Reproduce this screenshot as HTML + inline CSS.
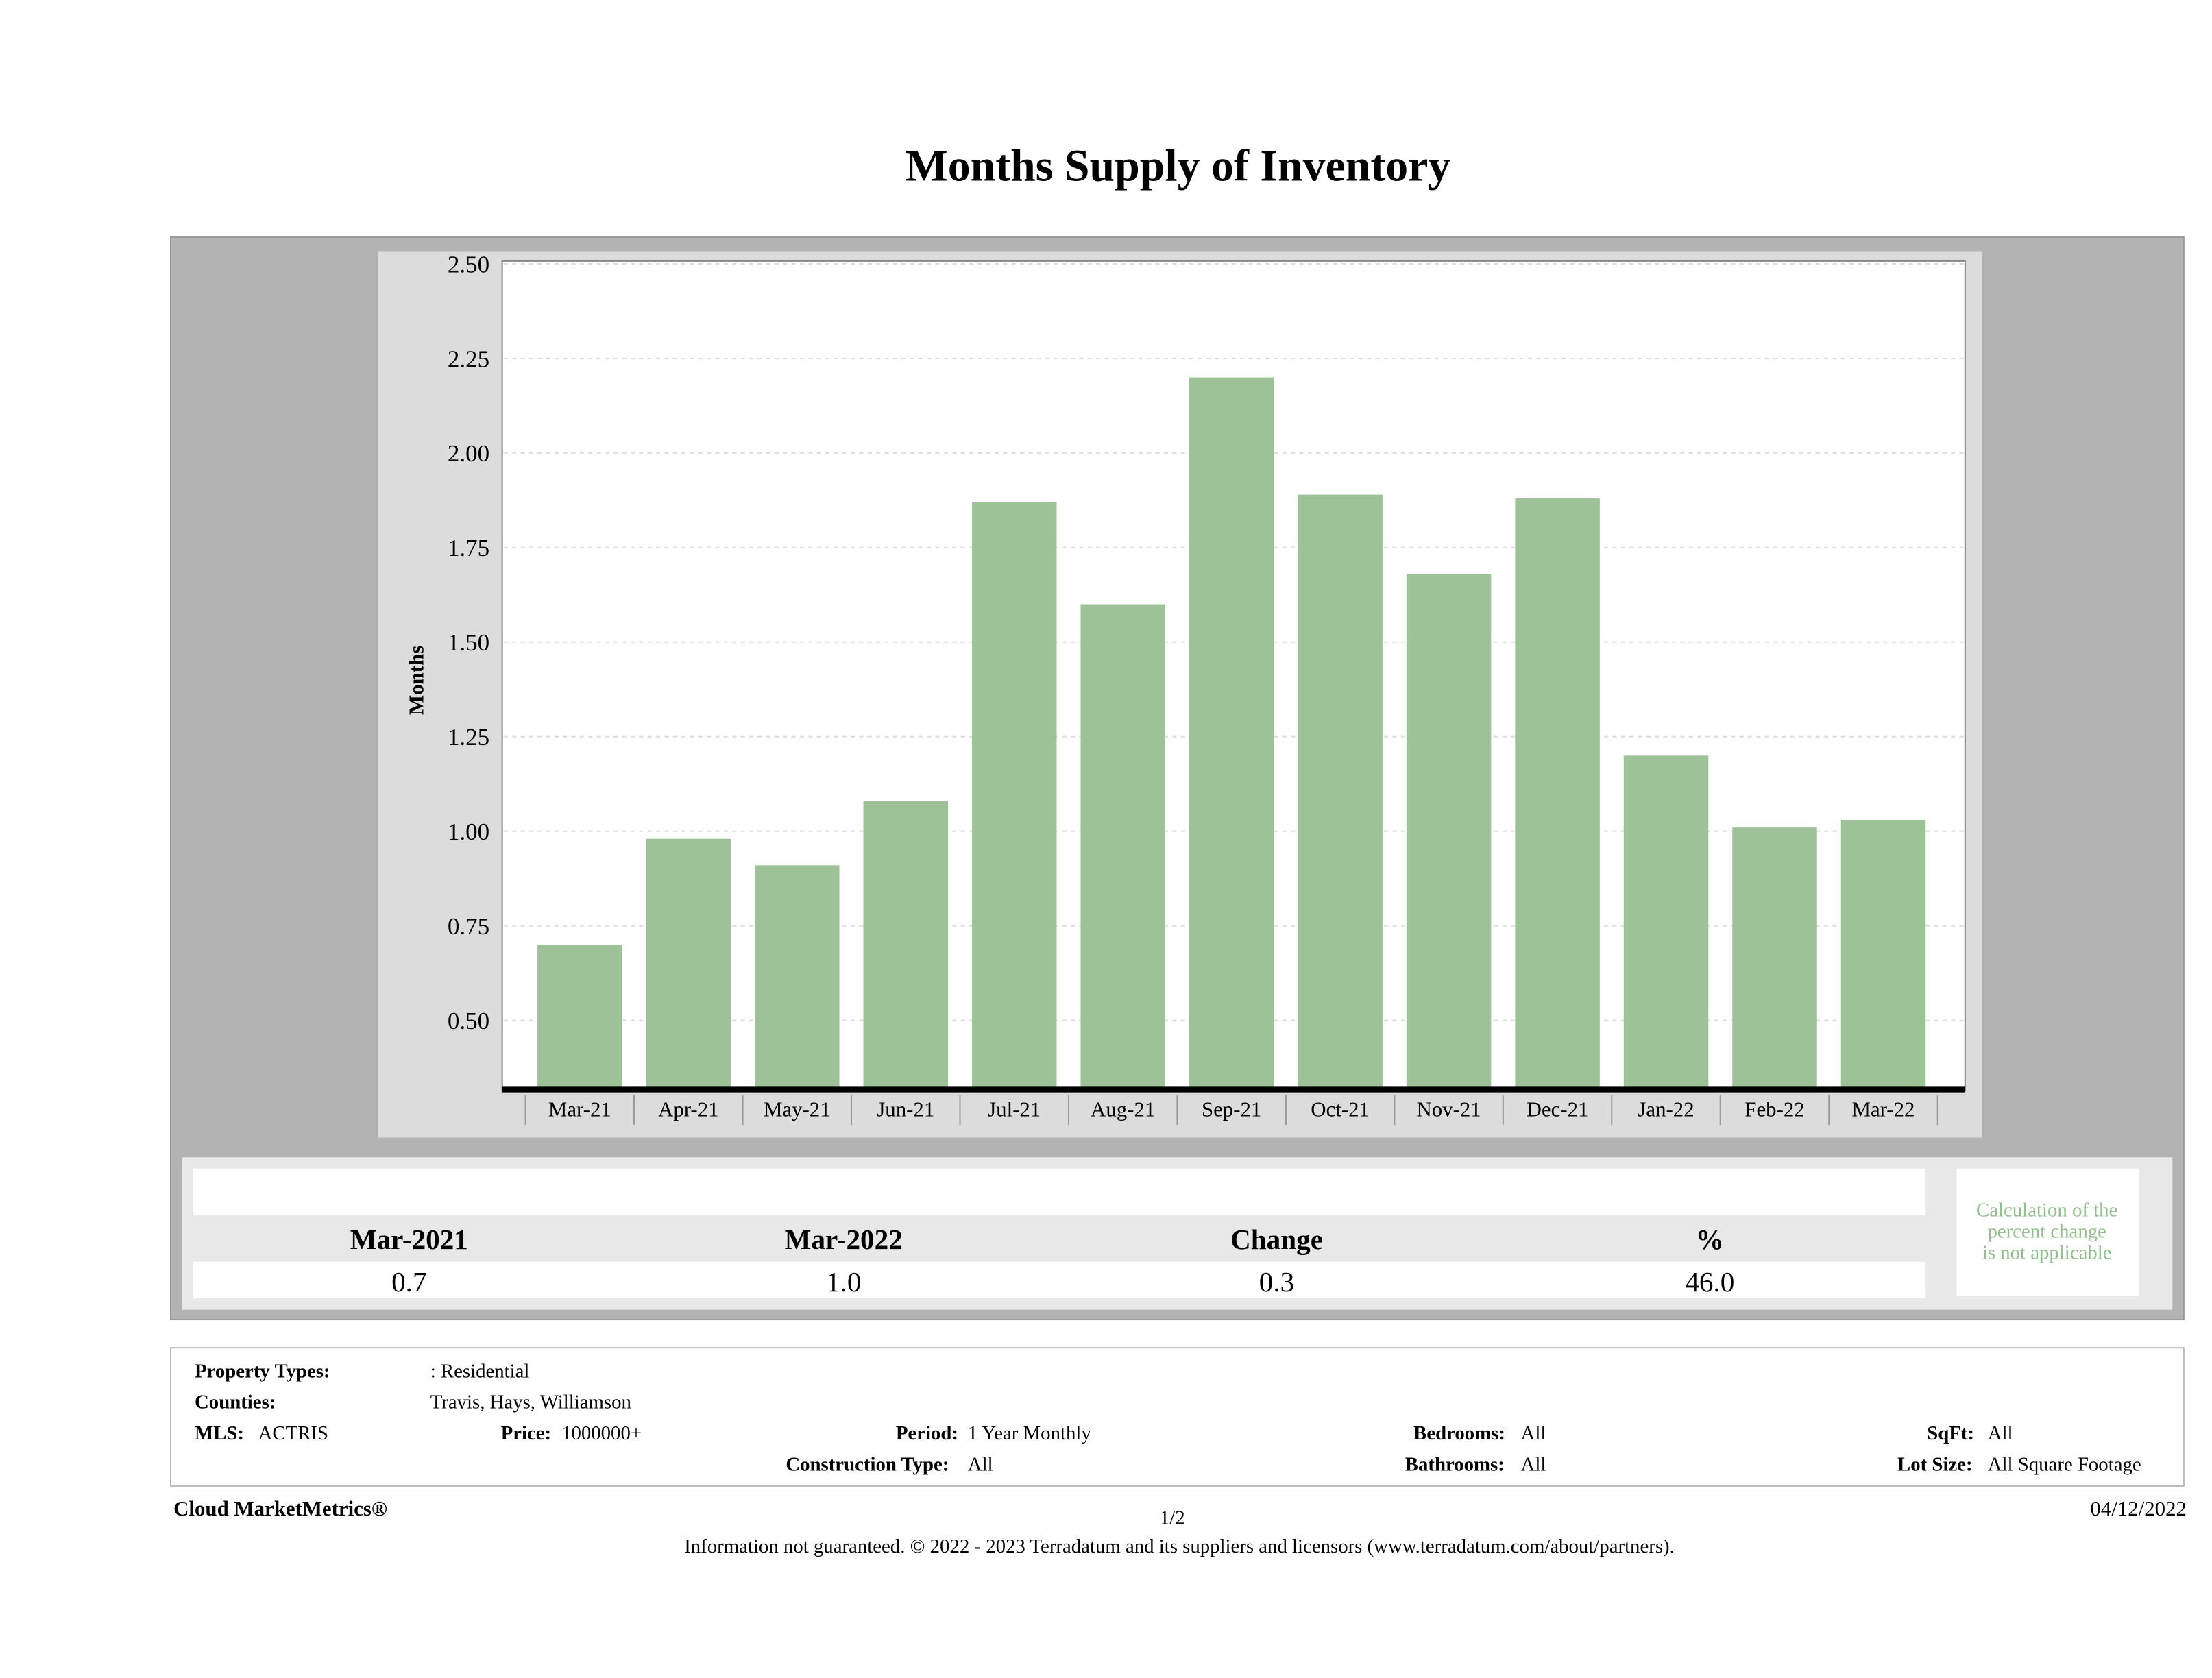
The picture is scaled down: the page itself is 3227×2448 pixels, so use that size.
<!DOCTYPE html>
<html><head><meta charset="utf-8"><style>
html,body{margin:0;padding:0;background:#fff;}
svg{display:block;font-family:"Liberation Serif",serif;}
</style></head><body>
<svg id="root" width="3227" height="2448" viewBox="0 0 1568 1189" preserveAspectRatio="none" xmlns="http://www.w3.org/2000/svg">
<text x="835" y="128" text-anchor="middle" font-size="32" font-weight="bold">Months Supply of Inventory</text>
<rect x="121" y="168" width="1427" height="767" fill="#b3b3b3" stroke="#999"/>
<rect x="268" y="178" width="1137" height="628" fill="#dcdcdc"/>
<rect x="356" y="185" width="1037" height="588" fill="#fff" stroke="#888"/>
<g id="grid"></g>
<g id="bars"></g>
<line x1="356" y1="772" x2="1393" y2="772" stroke="#000" stroke-width="4"/>
<g id="xlabels"></g>
<g id="ylabels"></g>
<text transform="translate(300,482) rotate(-90)" text-anchor="middle" font-size="15" font-weight="bold">Months</text>

<rect x="129" y="820" width="1411" height="108" fill="#e8e8e8"/>
<rect x="137" y="828" width="1228" height="33" fill="#fff"/>
<rect x="137" y="894" width="1228" height="26" fill="#fff"/>
<rect x="1387" y="828" width="129" height="90" fill="#fff"/>
<g font-size="14" fill="#8fbf8a" text-anchor="middle">
<text x="1451" y="862">Calculation of the</text><text x="1451" y="877">percent change</text><text x="1451" y="892">is not applicable</text></g>
<g font-size="20" font-weight="bold" text-anchor="middle">
<text x="290" y="885">Mar-2021</text>
<text x="598" y="885">Mar-2022</text>
<text x="905" y="885">Change</text>
<text x="1212" y="885">%</text></g>
<g font-size="20" text-anchor="middle">
<text x="290" y="915">0.7</text>
<text x="598" y="915">1.0</text>
<text x="905" y="915">0.3</text>
<text x="1212" y="915">46.0</text></g>

<rect x="121" y="955" width="1427" height="98" fill="#fff" stroke="#bbb"/>
<g font-size="14">
<text x="138" y="976" font-weight="bold">Property Types:</text><text x="305" y="976">: Residential</text>
<text x="138" y="998" font-weight="bold">Counties:</text><text x="305" y="998">Travis, Hays, Williamson</text>
<text x="138" y="1020" font-weight="bold">MLS:</text><text x="183" y="1020">ACTRIS</text>
<text x="355" y="1020" font-weight="bold">Price:</text><text x="398" y="1020">1000000+</text>
<text x="635" y="1020" font-weight="bold">Period:</text><text x="686" y="1020">1 Year Monthly</text>
<text x="1002" y="1020" font-weight="bold">Bedrooms:</text><text x="1078" y="1020">All</text>
<text x="1366" y="1020" font-weight="bold">SqFt:</text><text x="1409" y="1020">All</text>
<text x="557" y="1042" font-weight="bold">Construction Type:</text><text x="686" y="1042">All</text>
<text x="996" y="1042" font-weight="bold">Bathrooms:</text><text x="1078" y="1042">All</text>
<text x="1345" y="1042" font-weight="bold">Lot Size:</text><text x="1409" y="1042">All Square Footage</text></g>
<text x="123" y="1074" font-size="15" font-weight="bold">Cloud MarketMetrics®</text>
<text x="831" y="1080" font-size="14" text-anchor="middle">1/2</text>
<text x="1550" y="1074" font-size="15" text-anchor="end">04/12/2022</text>
<text x="836" y="1100" font-size="14" text-anchor="middle">Information not guaranteed. © 2022 - 2023 Terradatum and its suppliers and licensors (www.terradatum.com/about/partners).</text>
</svg>
<script>
const categories = ["Mar-21","Apr-21","May-21","Jun-21","Jul-21","Aug-21","Sep-21","Oct-21","Nov-21","Dec-21","Jan-22","Feb-22","Mar-22"];
const values = [0.70,0.98,0.91,1.08,1.87,1.60,2.20,1.89,1.68,1.88,1.20,1.01,1.03];
const yTicks = [0.50,0.75,1.00,1.25,1.50,1.75,2.00,2.25,2.50];
const NS="http://www.w3.org/2000/svg";
const yMin=0.3134, yMax=2.5, pTop=187, pBot=773;
function y(v){return pBot-(v-yMin)/(yMax-yMin)*(pBot-pTop);}
const x0=411, step=77, bw=60;
function xc(i){return x0+i*step;}
function mk(tag,at){const e=document.createElementNS(NS,tag);for(const k in at)e.setAttribute(k,at[k]);return e;}
const grid=document.getElementById('grid'), yl=document.getElementById('ylabels');
yTicks.forEach(t=>{
  const l=mk('line',{x1:357,x2:1392,y1:y(t),y2:y(t),stroke:'#ddd','stroke-dasharray':'3,3'});
  
  
  grid.appendChild(l);
  const tx=mk('text',{x:347,y:y(t)+6,'text-anchor':'end','font-size':17});
  tx.textContent=t.toFixed(2);
  
  
  yl.appendChild(tx);
});
const bars=document.getElementById('bars'), xl=document.getElementById('xlabels');
values.forEach((v,i)=>{
  const r=mk('rect',{x:xc(i)-bw/2,y:y(v),width:bw,height:pBot-y(v),fill:'#9dc297'});
  
  
  bars.appendChild(r);
  const t=mk('text',{x:xc(i),y:791,'text-anchor':'middle','font-size':15});
  t.textContent=categories[i];
  
  
  xl.appendChild(t);
  const s=mk('line',{x1:xc(i)-38.5,x2:xc(i)-38.5,y1:776,y2:797,stroke:'#999'});
  
  
  xl.appendChild(s);
});
const s2=mk('line',{x1:xc(12)+38.5,x2:xc(12)+38.5,y1:776,y2:797,stroke:'#999'});


xl.appendChild(s2);
</script>
</body></html>
